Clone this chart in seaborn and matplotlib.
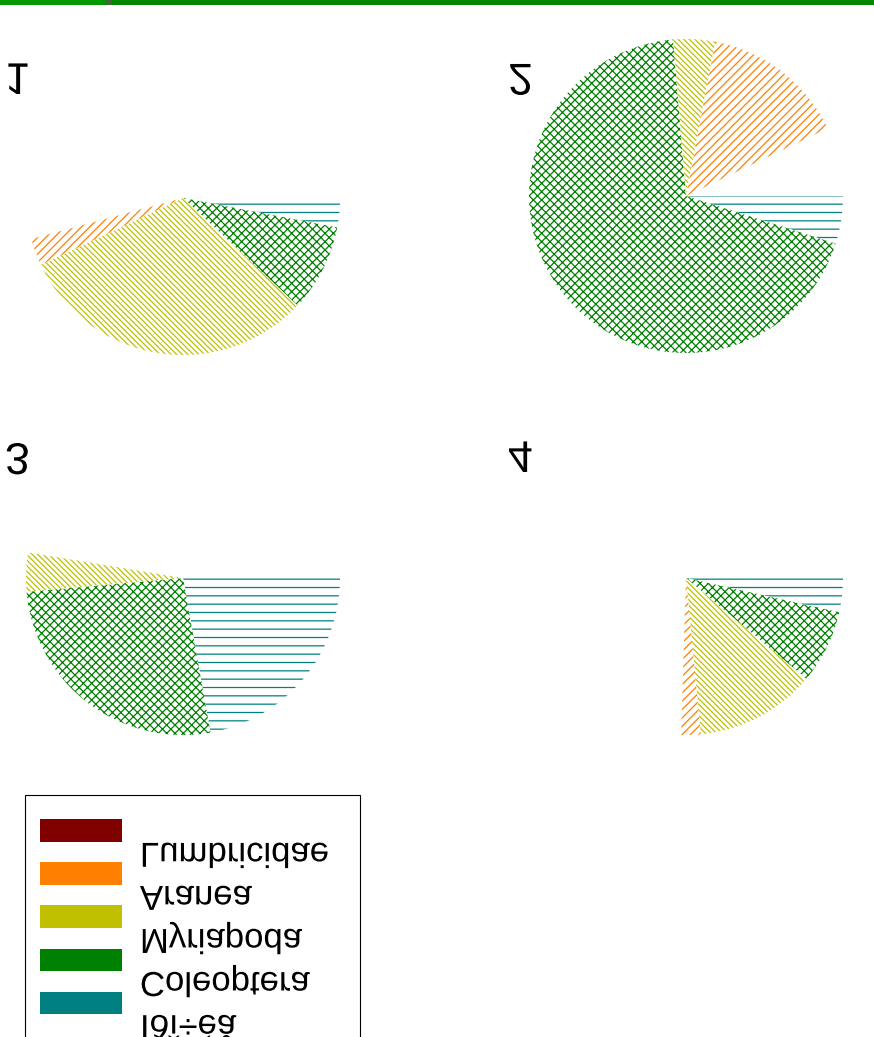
import matplotlib
matplotlib.use('Agg')
import matplotlib.pyplot as plt
import seaborn as sns
from matplotlib.patches import Patch, Rectangle
from matplotlib.patheffects import AbstractPathEffect
from matplotlib.transforms import Affine2D

# Data read from the (vertically mirrored) picture, share of a full circle
labels = ['Ïðî÷èå', 'Coleoptera', 'Myriapoda', 'Aranea', 'Lumbricidae']
colors = ['#008080', '#008000', '#c0c000', '#ff8000', '#800000']
hatches = ['--', 'xxxx', '\\\\\\\\\\\\', '////', '']
site_names = ['1', '2', '3', '4']
site1 = [0.030, 0.090, 0.310, 0.028, 0.0]
site2 = [0.049, 0.688, 0.043, 0.149, 0.0]
site3 = [0.222, 0.264, 0.040, 0.0, 0.0]
site4 = [0.035, 0.076, 0.124, 0.020, 0.0]
sites = [site1, site2, site3, site4]


class FlipV(AbstractPathEffect):
    """Draw text mirrored upside down (the whole picture is flipped)."""
    def __init__(self, about='center'):
        super().__init__()
        self.about = about

    def draw_path(self, renderer, gc, tpath, affine, rgbFace=None):
        c = 0.0
        if self.about == 'center':
            ext = tpath.get_extents()
            c = (ext.y0 + ext.y1) / 2
        flip = Affine2D().translate(0, -c).scale(1, -1).translate(0, c)
        renderer.draw_path(gc, tpath, flip + affine, rgbFace)


sns.set_theme(style='white')
plt.rcParams['font.family'] = ['Liberation Sans', 'DejaVu Sans']
plt.rcParams['hatch.linewidth'] = 0.9

W, H = 874, 1037
fig = plt.figure(figsize=(W / 100, H / 100), dpi=100)
fig.patch.set_facecolor('white')

R = 157
pad = 1.1
centers = [(183, 198), (686, 196), (183, 578), (686, 578)]
label_pos = [(5, 94), (508, 95), (5, 474), (508, 472)]

for vals, (cx, cy), name, (lx, ly) in zip(sites, centers, site_names, label_pos):
    size = 2 * R * pad
    ax = fig.add_axes([(cx - size / 2) / W, (H - cy - size / 2) / H, size / W, size / H])
    wedges, _ = ax.pie(vals, colors=colors, startangle=0, counterclock=False,
                       normalize=False, wedgeprops=dict(linewidth=0))
    for w, c, h in zip(wedges, colors, hatches):
        w.set_facecolor('white')
        w.set_edgecolor(c)
        w.set_hatch(h)
    ax.set_xlim(-pad, pad)
    ax.set_ylim(-pad, pad)
    ax.axis('off')
    t = fig.text(lx / W, (H - ly) / H, name, fontsize=32, color='black',
                 ha='left', va='baseline')
    t.set_path_effects([FlipV('center')])

# legend frame (its far edge runs off the picture)
fig.patches.append(Rectangle((25 / W, -0.05), 335 / W, 0.05 + (H - 795) / H,
                             transform=fig.transFigure, facecolor='white',
                             edgecolor='black', linewidth=0.8, zorder=2))

# legend (drawn upside down like the rest of the picture)
handles = [Patch(facecolor=c, edgecolor='none') for c in colors][::-1]
leg = fig.legend(handles, labels[::-1], loc='upper left',
                 bbox_to_anchor=(25 / W, (H - 802) / H, 335 / W, 0),
                 mode='expand', borderaxespad=0, fontsize=25,
                 handlelength=2.36, handleheight=0.634, handletextpad=0.52,
                 borderpad=0.43, labelspacing=0.29, frameon=False,
                 labelcolor='black')
leg.set_zorder(3)
for txt in leg.get_texts():
    txt.set_path_effects([FlipV('baseline')])

# green bar along the top edge
fig.patches.append(Rectangle((0, (H - 5) / H), 1, 5 / H, transform=fig.transFigure,
                             facecolor='#008800', edgecolor='none', zorder=5))
fig.patches.append(Rectangle((0, (H - 5) / H), 105 / W, 5 / H, transform=fig.transFigure,
                             facecolor='#009900', edgecolor='none', zorder=6))
fig.patches.append(Rectangle((105 / W, (H - 5) / H), 6 / W, 5 / H, transform=fig.transFigure,
                             facecolor='#3a6a3a', edgecolor='none', zorder=6))

fig.savefig('out.png', dpi=100)
